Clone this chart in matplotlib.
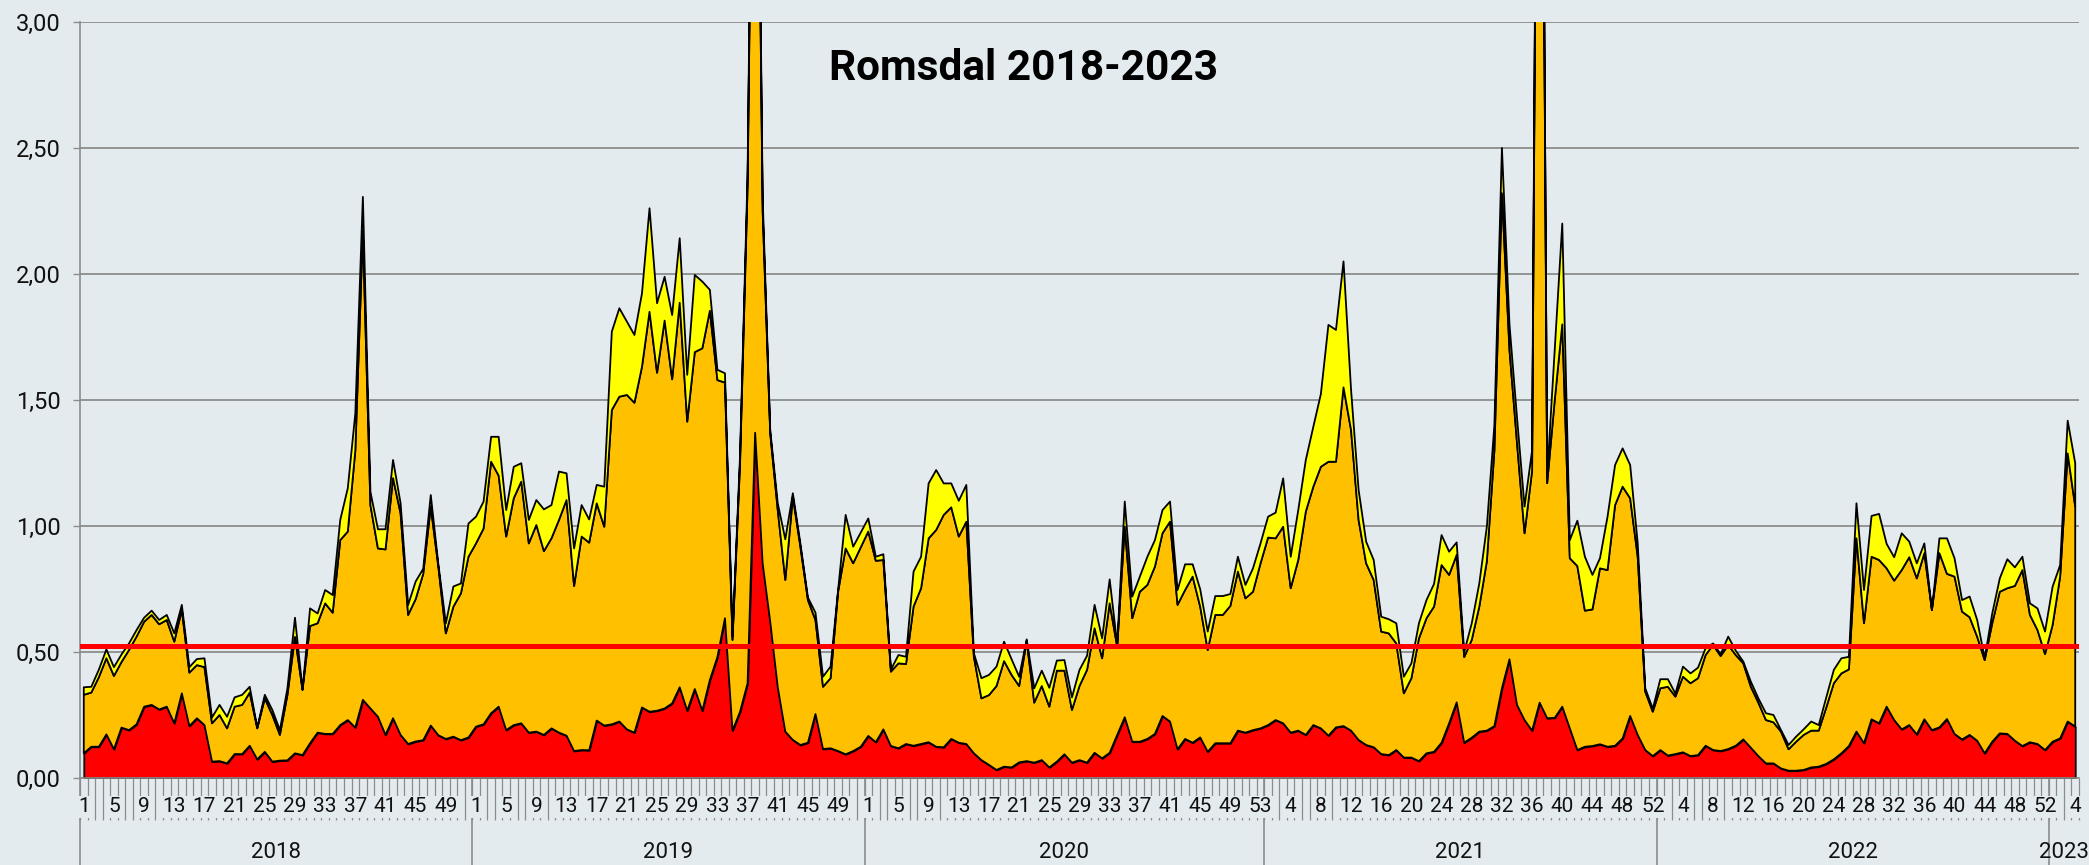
import numpy as np
import matplotlib
matplotlib.use("Agg")
import matplotlib.pyplot as plt
from matplotlib.transforms import blended_transform_factory

plt.rcParams['font.family'] = ['Roboto', 'DejaVu Sans']

# ---------------- data ----------------
title = "Romsdal 2018-2023"
years = [2018, 2019, 2020, 2021, 2022, 2023]
weeks_in_year = [52, 52, 53, 52, 52, 4]
threshold = 0.523
y_ticks = [0.0, 0.5, 1.0, 1.5, 2.0, 2.5, 3.0]

# red series (bottom layer)
red_level = [
    0.098, 0.124, 0.124, 0.173, 0.114, 0.20, 0.19, 0.213, 0.283, 0.29,
    0.272, 0.283, 0.217, 0.336, 0.206, 0.237, 0.21, 0.065, 0.067, 0.058,
    0.095, 0.095, 0.128, 0.074, 0.104, 0.065, 0.069, 0.07, 0.098, 0.091,
    0.138, 0.18, 0.175, 0.175, 0.21, 0.23, 0.20, 0.31, 0.276, 0.243,
    0.171, 0.237, 0.171, 0.135, 0.145, 0.15, 0.208, 0.17, 0.155, 0.164,
    0.15, 0.161, 0.204, 0.213, 0.257, 0.283, 0.19, 0.21, 0.217, 0.18,
    0.184, 0.171, 0.197, 0.18, 0.168, 0.107, 0.111, 0.11, 0.228, 0.208,
    0.213, 0.224, 0.193, 0.18, 0.28, 0.263, 0.267, 0.276, 0.296, 0.36,
    0.267, 0.353, 0.267, 0.389, 0.48, 0.634, 0.188, 0.263, 0.376, 1.37,
    0.85, 0.62, 0.36, 0.184, 0.151, 0.131, 0.14, 0.254, 0.115, 0.118,
    0.107, 0.094, 0.107, 0.124, 0.167, 0.142, 0.193, 0.127, 0.118, 0.135,
    0.128, 0.135, 0.142, 0.124, 0.122, 0.155, 0.14, 0.135, 0.098, 0.071,
    0.052, 0.032, 0.045, 0.042, 0.062, 0.067, 0.061, 0.071, 0.042, 0.065,
    0.094, 0.061, 0.071, 0.061, 0.10, 0.078, 0.10, 0.171, 0.241, 0.144,
    0.144, 0.155, 0.175, 0.246, 0.224, 0.114, 0.155, 0.14, 0.161, 0.104,
    0.138, 0.138, 0.138, 0.188, 0.18, 0.19, 0.197, 0.21, 0.23, 0.217,
    0.18, 0.188, 0.171, 0.21, 0.197, 0.168, 0.201, 0.206, 0.188, 0.151,
    0.131, 0.122, 0.095, 0.091, 0.111, 0.081, 0.081, 0.067, 0.098, 0.104,
    0.14, 0.217, 0.30, 0.14, 0.16, 0.184, 0.188, 0.206, 0.356, 0.471,
    0.29, 0.23, 0.188, 0.299, 0.237, 0.239, 0.283, 0.197, 0.111, 0.124,
    0.127, 0.134, 0.124, 0.128, 0.157, 0.246, 0.171, 0.111, 0.087, 0.111,
    0.089, 0.095, 0.102, 0.087, 0.091, 0.128, 0.111, 0.107, 0.115, 0.128,
    0.153, 0.12, 0.087, 0.058, 0.058, 0.038, 0.029, 0.029, 0.032, 0.042,
    0.045, 0.056, 0.074, 0.098, 0.127, 0.184, 0.138, 0.233, 0.217, 0.283,
    0.23, 0.193, 0.21, 0.173, 0.233, 0.19, 0.201, 0.234, 0.175, 0.153,
    0.171, 0.148, 0.098, 0.144, 0.177, 0.175, 0.148, 0.127, 0.142, 0.135,
    0.111, 0.144, 0.157, 0.224, 0.204,
]

# top of the orange layer (red + orange)
orange_level = [
    0.33, 0.339, 0.40, 0.475, 0.405, 0.46, 0.508, 0.561, 0.62, 0.647,
    0.61, 0.627, 0.541, 0.667, 0.418, 0.448, 0.44, 0.217, 0.25, 0.197,
    0.283, 0.29, 0.339, 0.197, 0.316, 0.25, 0.171, 0.33, 0.56, 0.35,
    0.603, 0.614, 0.693, 0.656, 0.944, 0.978, 1.30, 2.17, 1.083, 0.911,
    0.907, 1.19, 1.05, 0.647, 0.71, 0.81, 1.077, 0.84, 0.574, 0.68,
    0.733, 0.878, 0.931, 0.99, 1.255, 1.20, 0.958, 1.11, 1.176, 0.931,
    1.004, 0.90, 0.951, 1.024, 1.103, 0.762, 0.958, 0.934, 1.09, 0.997,
    1.46, 1.513, 1.52, 1.489, 1.632, 1.85, 1.608, 1.815, 1.582, 1.886,
    1.414, 1.69, 1.705, 1.854, 1.579, 1.569, 0.548, 1.25, 2.35, 4.9,
    2.25, 1.368, 1.063, 0.786, 1.116, 0.918, 0.706, 0.627, 0.362, 0.396,
    0.739, 0.911, 0.852, 0.915, 0.978, 0.862, 0.865, 0.422, 0.455, 0.452,
    0.68, 0.753, 0.951, 0.984, 1.044, 1.074, 0.958, 1.017, 0.481, 0.316,
    0.329, 0.365, 0.464, 0.409, 0.365, 0.544, 0.299, 0.365, 0.283, 0.426,
    0.426, 0.27, 0.365, 0.429, 0.594, 0.475, 0.693, 0.521, 0.997, 0.634,
    0.739, 0.766, 0.839, 0.971, 1.017, 0.687, 0.746, 0.799, 0.68, 0.508,
    0.647, 0.647, 0.683, 0.819, 0.713, 0.739, 0.852, 0.954, 0.951, 0.997,
    0.753, 0.865, 1.057, 1.156, 1.235, 1.255, 1.255, 1.55, 1.381, 1.024,
    0.852, 0.786, 0.581, 0.574, 0.534, 0.336, 0.396, 0.554, 0.634, 0.68,
    0.845, 0.806, 0.885, 0.48, 0.548, 0.68, 0.86, 1.30, 2.32, 1.70,
    1.33, 0.971, 1.22, 5.9, 1.17, 1.50, 1.80, 0.872, 0.841, 0.664,
    0.669, 0.832, 0.825, 1.083, 1.156, 1.11, 0.878, 0.343, 0.263, 0.356,
    0.362, 0.323, 0.402, 0.376, 0.396, 0.488, 0.528, 0.484, 0.528, 0.488,
    0.455, 0.362, 0.299, 0.23, 0.221, 0.184, 0.114, 0.144, 0.171, 0.188,
    0.188, 0.28, 0.376, 0.415, 0.431, 0.951, 0.614, 0.878, 0.865, 0.832,
    0.783, 0.825, 0.876, 0.792, 0.892, 0.667, 0.892, 0.81, 0.799, 0.66,
    0.638, 0.561, 0.468, 0.614, 0.739, 0.753, 0.762, 0.825, 0.647, 0.587,
    0.492, 0.607, 0.799, 1.288, 1.077,
]

# top of the yellow layer (total)
yellow_level = [
    0.36, 0.362, 0.43, 0.51, 0.44, 0.49, 0.534, 0.587, 0.636, 0.664,
    0.627, 0.647, 0.574, 0.687, 0.44, 0.472, 0.475, 0.24, 0.29, 0.243,
    0.32, 0.33, 0.362, 0.20, 0.33, 0.27, 0.19, 0.356, 0.636, 0.35,
    0.673, 0.653, 0.746, 0.726, 1.024, 1.15, 1.447, 2.306, 1.136, 0.987,
    0.987, 1.262, 1.09, 0.687, 0.78, 0.83, 1.123, 0.85, 0.614, 0.76,
    0.772, 1.01, 1.037, 1.097, 1.354, 1.354, 1.063, 1.235, 1.249, 1.024,
    1.103, 1.066, 1.083, 1.216, 1.209, 0.911, 1.083, 1.026, 1.163, 1.156,
    1.771, 1.864, 1.811, 1.758, 1.923, 2.261, 1.884, 1.989, 1.837, 2.142,
    1.60, 1.996, 1.97, 1.937, 1.62, 1.606, 0.56, 1.28, 2.4, 5.0,
    2.3, 1.381, 1.09, 0.947, 1.13, 0.931, 0.716, 0.656, 0.402, 0.442,
    0.746, 1.044, 0.918, 0.974, 1.03, 0.878, 0.888, 0.43, 0.488, 0.481,
    0.819, 0.878, 1.169, 1.222, 1.169, 1.169, 1.10, 1.163, 0.495, 0.396,
    0.409, 0.442, 0.541, 0.471, 0.402, 0.55, 0.356, 0.426, 0.358, 0.466,
    0.468, 0.32, 0.429, 0.485, 0.687, 0.554, 0.788, 0.53, 1.097, 0.72,
    0.799, 0.878, 0.944, 1.063, 1.097, 0.746, 0.848, 0.848, 0.749, 0.581,
    0.722, 0.722, 0.73, 0.878, 0.766, 0.832, 0.931, 1.037, 1.053, 1.189,
    0.878, 1.063, 1.262, 1.394, 1.524, 1.798, 1.778, 2.05, 1.54, 1.143,
    0.938, 0.865, 0.64, 0.63, 0.614, 0.402, 0.455, 0.614, 0.706, 0.77,
    0.964, 0.898, 0.935, 0.50, 0.614, 0.772, 0.997, 1.40, 2.50, 1.80,
    1.43, 1.077, 1.30, 6.0, 1.20, 1.70, 2.20, 0.944, 1.021, 0.878,
    0.806, 0.872, 1.037, 1.242, 1.308, 1.242, 0.931, 0.356, 0.275, 0.392,
    0.392, 0.335, 0.442, 0.415, 0.438, 0.515, 0.534, 0.491, 0.561, 0.505,
    0.462, 0.382, 0.316, 0.257, 0.25, 0.19, 0.131, 0.164, 0.193, 0.224,
    0.21, 0.32, 0.429, 0.475, 0.481, 1.09, 0.746, 1.04, 1.048, 0.929,
    0.876, 0.971, 0.938, 0.852, 0.931, 0.667, 0.951, 0.951, 0.872, 0.706,
    0.72, 0.627, 0.475, 0.653, 0.792, 0.868, 0.836, 0.878, 0.693, 0.673,
    0.581, 0.759, 0.845, 1.418, 1.249,
]

# ---------------- style ----------------
W, H = 2089, 865
BG = '#E4EBEF'
GRID = '#8C8C8C'
C_RED, C_ORANGE, C_YELLOW = '#FF0000', '#FFC000', '#FFFF00'

fig = plt.figure(figsize=(W / 100, H / 100), dpi=100)
fig.patch.set_facecolor(BG)
ax_left, ax_right, ax_top, ax_bottom = 80, 2079, 22, 778
ax = fig.add_axes([ax_left / W, 1 - ax_bottom / H,
                   (ax_right - ax_left) / W, (ax_bottom - ax_top) / H])
ax.set_facecolor(BG)

weeks = [w for n in weeks_in_year for w in range(1, n + 1)]
n = len(weeks)
x = np.arange(n)
red = np.array(red_level)
orange = np.array(orange_level) - red
yellow = np.array(yellow_level) - np.array(orange_level)

ax.stackplot(x, red, orange, yellow, colors=[C_RED, C_ORANGE, C_YELLOW],
             edgecolor='black', linewidth=1.3, zorder=2)
ax.axhline(threshold, color=C_RED, lw=3.6, zorder=3)

ax.set_xlim(-0.5, n - 0.5)
ax.set_ylim(0, 3)
ax.set_yticks(y_ticks)
ax.set_yticklabels([f"{v:.2f}".replace('.', ',') for v in y_ticks])
ax.yaxis.grid(True, color=GRID, lw=1.3)
ax.set_axisbelow(True)
ax.tick_params(axis='y', length=5, width=1, color=GRID, pad=9,
               labelsize=17, labelcolor='#111111')
ax.set_xticks([])
for s in ['top', 'right']:
    ax.spines[s].set_visible(False)
for s in ['left', 'bottom']:
    ax.spines[s].set_color(GRID)
    ax.spines[s].set_linewidth(1.2)

# category axis: tick marks between every week, labels every 4th week
trans = blended_transform_factory(ax.transData, ax.transAxes)
px = 1.0 / (ax_bottom - ax_top)
tick_len = 42 * px
ax.vlines(np.arange(-0.5, n, 1.0), -tick_len, 0, transform=trans,
          colors=GRID, lw=0.9, clip_on=False, zorder=1)
for i in range(0, n, 4):
    ax.text(i, -29 * px, str(weeks[i]), transform=trans, ha='center',
            va='center', fontsize=15, color='#111111', clip_on=False, zorder=5,
            bbox=dict(boxstyle='square,pad=0.08', fc=BG, ec='none'))

# year grouping
bounds = np.concatenate([[0], np.cumsum(weeks_in_year)]) - 0.5
sep_len = (H - ax_bottom) * px
ax.vlines(bounds[:-1], -sep_len, 0, transform=trans, colors=GRID, lw=1.2,
          clip_on=False, zorder=1)
for k, yr in enumerate(years):
    ax.text((bounds[k] + bounds[k + 1]) / 2, -74 * px, str(yr),
            transform=trans, ha='center', va='center', fontsize=16,
            color='#111111', clip_on=False)

fig.text(1024 / W, 1 - 80 / H, title, ha='center', va='baseline',
         fontsize=30.5, fontweight='bold', color='black')

fig.savefig('out.png', dpi=100, facecolor=BG)
